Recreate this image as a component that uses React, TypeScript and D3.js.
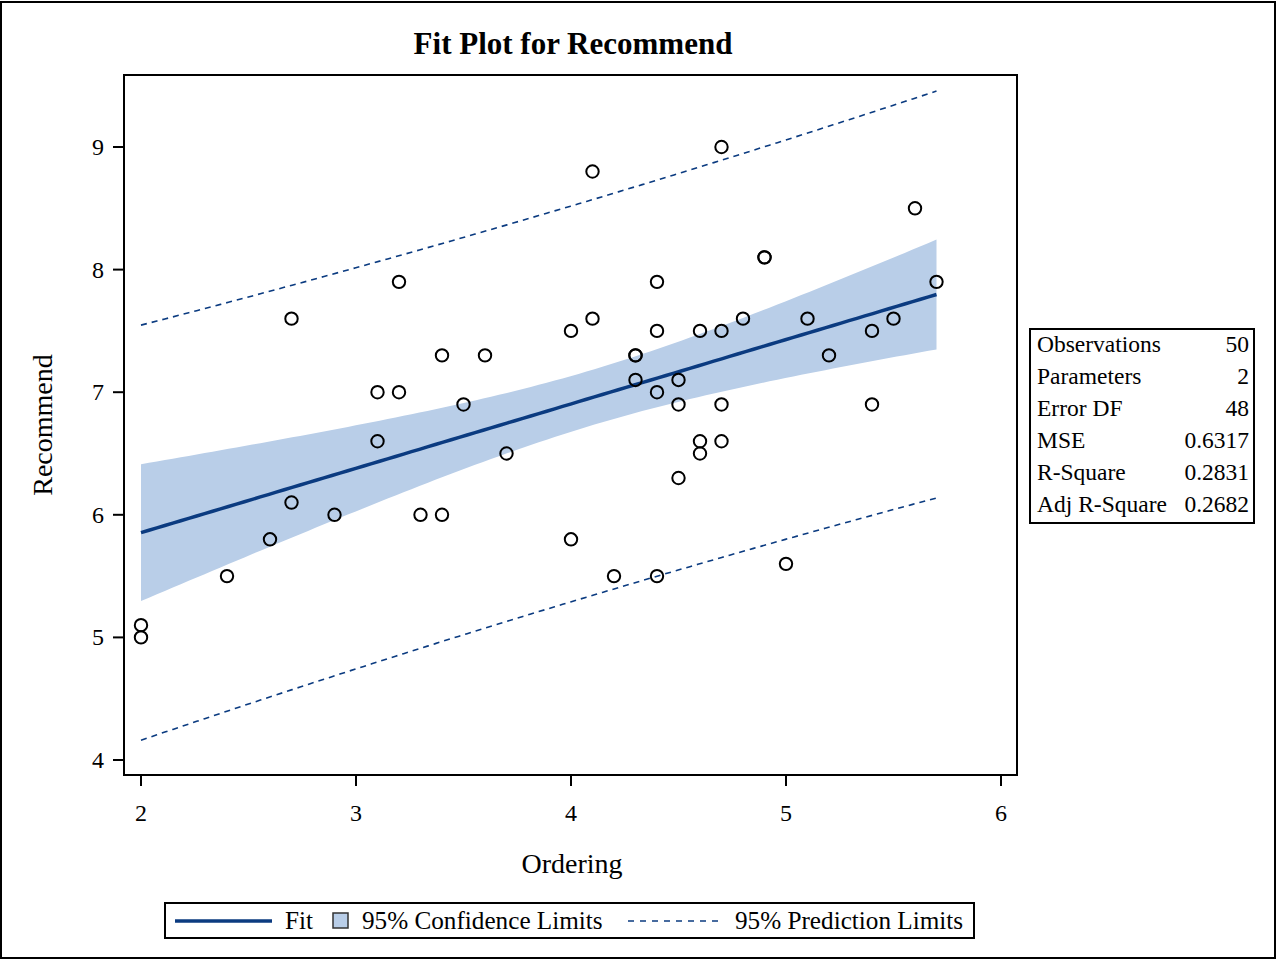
import React from "react";
import * as d3 from "d3";

const ordering = [2, 2, 2.4, 2.6, 2.7, 2.7, 2.9, 3.1, 3.1, 3.2, 3.2, 3.3, 3.4, 3.4, 3.5, 3.6, 3.7, 4.0, 4.0, 4.1, 4.1, 4.2, 4.3, 4.3, 4.3, 4.4, 4.4, 4.4, 4.4, 4.5, 4.5, 4.5, 4.6, 4.6, 4.6, 4.7, 4.7, 4.7, 4.7, 4.8, 4.9, 4.9, 5.0, 5.1, 5.2, 5.4, 5.4, 5.5, 5.6, 5.7];
const recommend = [5.1, 5.0, 5.5, 5.8, 7.6, 6.1, 6.0, 7.0, 6.6, 7.9, 7.0, 6.0, 7.3, 6.0, 6.9, 7.3, 6.5, 7.5, 5.8, 8.8, 7.6, 5.5, 7.3, 7.3, 7.1, 7.9, 7.5, 7.0, 5.5, 7.1, 6.9, 6.3, 7.5, 6.6, 6.5, 9.0, 7.5, 6.9, 6.6, 7.6, 8.1, 8.1, 5.6, 7.6, 7.3, 7.5, 6.9, 7.6, 8.5, 7.9];

const xTicks = [2, 3, 4, 5, 6];
const yTicks = [4, 5, 6, 7, 8, 9];
const statLabels = ["Observations", "Parameters", "Error DF", "MSE", "R-Square", "Adj R-Square"];
const statValues = ["50", "2", "48", "0.6317", "0.2831", "0.2682"];

const W = 1278, H = 961;
const FRAME = { l: 124, r: 1017, t: 75, b: 775 };
const NAVY = "#0b3b80";
const BAND = "#b9cee8";
const FONT = "'Liberation Serif', 'Times New Roman', serif";

export default function App() {
  const x = d3.scaleLinear().domain([2, 6]).range([141, 1001]);
  const y = d3.scaleLinear().domain([4, 9]).range([760, 147]);

  const n = ordering.length;
  const xbar = d3.mean(ordering)!;
  const ybar = d3.mean(recommend)!;
  let sxx = 0, sxy = 0;
  for (let i = 0; i < n; i++) {
    sxx += (ordering[i] - xbar) ** 2;
    sxy += (ordering[i] - xbar) * (recommend[i] - ybar);
  }
  const b1 = sxy / sxx;
  const b0 = ybar - b1 * xbar;
  let sse = 0;
  for (let i = 0; i < n; i++) sse += (recommend[i] - b0 - b1 * ordering[i]) ** 2;
  const mse = sse / (n - 2);
  const t = 2.0106;
  const xmin = d3.min(ordering)!, xmax = d3.max(ordering)!;
  const grid = d3.range(0, 101).map((i) => xmin + ((xmax - xmin) * i) / 100);
  const rows = grid.map((gx) => {
    const fit = b0 + b1 * gx;
    const h = (gx - xbar) ** 2 / sxx;
    const ci = t * Math.sqrt(mse * (1 / n + h));
    const pi = t * Math.sqrt(mse * (1 + 1 / n + h));
    return { gx, fit, cl: fit - ci, cu: fit + ci, pl: fit - pi, pu: fit + pi };
  });

  const area = d3.area<any>().x((d) => x(d.gx)).y0((d) => y(d.cl)).y1((d) => y(d.cu));
  const line = (key: string) => d3.line<any>().x((d) => x(d.gx)).y((d) => y(d[key]))(rows) as string;

  return (
    <svg width={W} height={H} style={{ position: "absolute", left: 0, top: 0, background: "#fff" }} fontFamily={FONT}>
      <rect x={1} y={2} width={1274} height={956} fill="#fff" stroke="#000" strokeWidth={2} />
      <text x={573} y={54} textAnchor="middle" fontSize={31} fontWeight="bold">Fit Plot for Recommend</text>

      <path d={area(rows) as string} fill={BAND} />
      <path d={line("pl")} fill="none" stroke={NAVY} strokeWidth={1.6} strokeDasharray="6 5" />
      <path d={line("pu")} fill="none" stroke={NAVY} strokeWidth={1.6} strokeDasharray="6 5" />
      <path d={line("fit")} fill="none" stroke={NAVY} strokeWidth={3.5} />
      {ordering.map((ox, i) => (
        <circle key={i} cx={x(ox)} cy={y(recommend[i])} r={6.2} fill="none" stroke="#000" strokeWidth={2} />
      ))}

      <rect x={FRAME.l} y={FRAME.t} width={FRAME.r - FRAME.l} height={FRAME.b - FRAME.t} fill="none" stroke="#000" strokeWidth={2} />

      {xTicks.map((v) => (
        <g key={v}>
          <line x1={x(v)} x2={x(v)} y1={FRAME.b} y2={FRAME.b + 11} stroke="#000" strokeWidth={2} />
          <text x={x(v)} y={821} textAnchor="middle" fontSize={24}>{v}</text>
        </g>
      ))}
      {yTicks.map((v) => (
        <g key={v}>
          <line x1={FRAME.l - 11} x2={FRAME.l} y1={y(v)} y2={y(v)} stroke="#000" strokeWidth={2} />
          <text x={104} y={y(v) + 8} textAnchor="end" fontSize={24}>{v}</text>
        </g>
      ))}
      <text x={572} y={873} textAnchor="middle" fontSize={28}>Ordering</text>
      <text transform="translate(52,425) rotate(-90)" textAnchor="middle" fontSize={28}>Recommend</text>

      <rect x={1030} y={329} width={224} height={194} fill="#fff" stroke="#000" strokeWidth={2} />
      {statLabels.map((s, i) => (
        <g key={s}>
          <text x={1037} y={352 + i * 32} fontSize={23.5}>{s}</text>
          <text x={1249} y={352 + i * 32} fontSize={23.5} textAnchor="end">{statValues[i]}</text>
        </g>
      ))}

      <rect x={165} y={903} width={809} height={35} fill="#fff" stroke="#000" strokeWidth={2} />
      <line x1={175} x2={272} y1={921} y2={921} stroke={NAVY} strokeWidth={3.5} />
      <text x={285} y={929} fontSize={25.2}>Fit</text>
      <rect x={333} y={913} width={15} height={15} fill={BAND} stroke="#333" strokeWidth={1.5} />
      <text x={362} y={929} fontSize={25.2}>95% Confidence Limits</text>
      <line x1={628} x2={718} y1={921} y2={921} stroke={NAVY} strokeWidth={1.6} strokeDasharray="6 6" />
      <text x={735} y={929} fontSize={25.2}>95% Prediction Limits</text>
    </svg>
  );
}
